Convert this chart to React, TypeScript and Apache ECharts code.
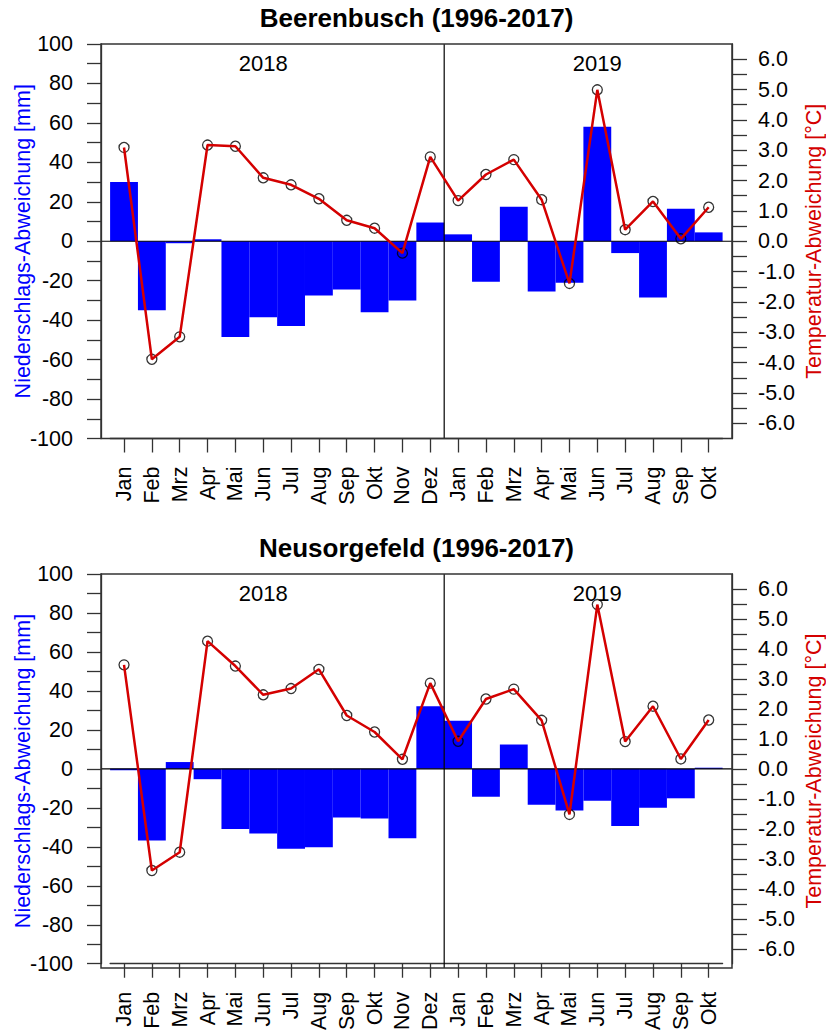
import React, { useEffect, useRef } from "react";
import * as echarts from "echarts";

const months = ["Jan", "Feb", "Mrz", "Apr", "Mai", "Jun", "Jul", "Aug", "Sep", "Okt", "Nov", "Dez", "Jan", "Feb", "Mrz", "Apr", "Mai", "Jun", "Jul", "Aug", "Sep", "Okt"];
const years = ["2018", "2019"];
const yearLabelIndex = [5, 17];
const yearLabelValue = 90;
const stations = ["Beerenbusch (1996-2017)", "Neusorgefeld (1996-2017)"];

const beerenPrecip = [30, -35, -1, 1, -48.5, -38.5, -43, -27.5, -24.5, -36, -30, 9.5, 3.5, -20.5, 17.5, -25.5, -21, 58, -6, -28.5, 16.5, 4.5];
const beerenTemp = [3.09, -3.89, -3.15, 3.17, 3.13, 2.09, 1.86, 1.4, 0.69, 0.43, -0.39, 2.78, 1.34, 2.2, 2.69, 1.37, -1.39, 4.99, 0.38, 1.31, 0.08, 1.12];
const neuPrecip = [-0.7, -36.8, 3.5, -5.3, -30.9, -33.2, -41, -40.2, -25, -25.5, -35.6, 32.1, 24.7, -14.3, 12.5, -18.4, -21.4, -16.3, -29.3, -19.9, -15.1, 0.6];
const neuTemp = [3.47, -3.39, -2.78, 4.26, 3.43, 2.47, 2.68, 3.32, 1.78, 1.23, 0.32, 2.86, 0.92, 2.33, 2.66, 1.62, -1.52, 5.48, 0.91, 2.09, 0.33, 1.63];

const precipTicks = [-100, -90, -80, -70, -60, -50, -40, -30, -20, -10, 0, 10, 20, 30, 40, 50, 60, 70, 80, 90, 100];
const precipLabels = [-100, -80, -60, -40, -20, 0, 20, 40, 60, 80, 100];
const tempTicks = [-6, -5.5, -5, -4.5, -4, -3.5, -3, -2.5, -2, -1.5, -1, -0.5, 0, 0.5, 1, 1.5, 2, 2.5, 3, 3.5, 4, 4.5, 5, 5.5, 6];
const tempLabels = [-6, -5, -4, -3, -2, -1, 0, 1, 2, 3, 4, 5, 6];

const precipSeries = [beerenPrecip, neuPrecip];
const tempSeries = [beerenTemp, neuTemp];

const FONT = "Liberation Sans, Arial, sans-serif";
const AX = "#333333";
const BLUE = "#0000FF";
const RED = "#D40000";

const BOX_LEFT = 101;
const BOX_RIGHT = 732;
const GRID_LEFT = 110.1;
const GRID_WIDTH = 612.5;
const GRID_TOPS = [44, 574];
const GRID_HEIGHTS = [394.5, 394];
const TITLE_Y = [17.5, 548];

export default function App() {
  const ref = useRef<HTMLDivElement>(null);

  useEffect(() => {
    if (!ref.current) return;
    const chart = echarts.init(ref.current, undefined, { renderer: "svg" });

    const grids: any[] = [];
    const xAxes: any[] = [];
    const yAxes: any[] = [];
    const series: any[] = [];

    [0, 1].forEach((g) => {
      grids.push({ left: GRID_LEFT, width: GRID_WIDTH, top: GRID_TOPS[g], height: GRID_HEIGHTS[g] });
      xAxes.push({
        type: "category",
        gridIndex: g,
        data: months,
        boundaryGap: true,
        axisLine: { show: true, onZero: false, lineStyle: { color: AX, width: 1.3 } },
        axisTick: { show: true, alignWithLabel: true, length: 14, lineStyle: { color: AX, width: 1.3 } },
        axisLabel: { interval: 0, rotate: 90, margin: 28, fontSize: 21.5, color: "#000", fontFamily: FONT },
        splitLine: { show: false },
      });
      yAxes.push({
        type: "value",
        gridIndex: g,
        position: "left",
        offset: GRID_LEFT - BOX_LEFT,
        min: -100,
        max: 100,
        interval: 10,
        axisLine: { show: true, lineStyle: { color: AX, width: 1.3 } },
        axisTick: { show: true, length: 14, customValues: precipTicks, lineStyle: { color: AX, width: 1.3 } },
        axisLabel: { customValues: precipLabels, margin: 28, fontSize: 21.5, color: "#000", fontFamily: FONT },
        splitLine: { show: false },
      });
      yAxes.push({
        type: "value",
        gridIndex: g,
        position: "right",
        offset: BOX_RIGHT - (GRID_LEFT + GRID_WIDTH),
        min: -6.5,
        max: 6.5,
        interval: 0.5,
        axisLine: { show: true, lineStyle: { color: AX, width: 1.3 } },
        axisTick: { show: true, length: 15, customValues: tempTicks, lineStyle: { color: AX, width: 1.3 } },
        axisLabel: {
          customValues: tempLabels,
          margin: 26,
          fontSize: 21.5,
          color: "#000",
          fontFamily: FONT,
          formatter: (v: number) => v.toFixed(1),
        },
        splitLine: { show: false },
      });
      series.push({
        type: "bar",
        xAxisIndex: g,
        yAxisIndex: 2 * g,
        data: precipSeries[g],
        barWidth: "100%",
        barCategoryGap: "0%",
        itemStyle: { color: BLUE },
        z: 2,
      });
      series.push({
        type: "scatter",
        xAxisIndex: g,
        yAxisIndex: 2 * g + 1,
        data: tempSeries[g],
        symbol: "circle",
        symbolSize: 10,
        itemStyle: { color: "rgba(0,0,0,0)", borderColor: "#000", borderWidth: 1.3 },
        z: 4,
      });
      series.push({
        type: "line",
        xAxisIndex: g,
        yAxisIndex: 2 * g + 1,
        data: tempSeries[g],
        symbol: "none",
        lineStyle: { color: RED, width: 2.5 },
        z: 5,
      });
    });

    chart.setOption({
      animation: false,
      grid: grids,
      xAxis: xAxes,
      yAxis: yAxes,
      series,
    });

    const graphics: any[] = [];
    [0, 1].forEach((g) => {
      const top = GRID_TOPS[g];
      const h = GRID_HEIGHTS[g];
      const yZero = chart.convertToPixel({ yAxisIndex: 2 * g } as any, 0) as number;
      const xDez = chart.convertToPixel({ xAxisIndex: g } as any, 11) as number;
      const xJan = chart.convertToPixel({ xAxisIndex: g } as any, 12) as number;
      const xDiv = (xDez + xJan) / 2;
      graphics.push({
        type: "rect",
        shape: { x: BOX_LEFT, y: top, width: BOX_RIGHT - BOX_LEFT, height: h },
        style: { fill: "none", stroke: AX, lineWidth: 1.5 },
        z: 10,
      });
      graphics.push({
        type: "line",
        shape: { x1: BOX_LEFT, y1: yZero, x2: BOX_RIGHT, y2: yZero },
        style: { stroke: "#000", lineWidth: 1.2 },
        z: 3,
      });
      graphics.push({
        type: "line",
        shape: { x1: xDiv, y1: top, x2: xDiv, y2: top + h },
        style: { stroke: "#000", lineWidth: 1.2 },
        z: 3,
      });
      years.forEach((yr, i) => {
        const x = chart.convertToPixel({ xAxisIndex: g } as any, yearLabelIndex[i]) as number;
        const y = chart.convertToPixel({ yAxisIndex: 2 * g } as any, yearLabelValue) as number;
        graphics.push({
          type: "text",
          x,
          y,
          style: { text: yr, font: `22px ${FONT}`, fill: "#000", align: "center", verticalAlign: "middle" },
          z: 6,
        });
      });
      graphics.push({
        type: "text",
        x: (BOX_LEFT + BOX_RIGHT) / 2,
        y: TITLE_Y[g],
        style: { text: stations[g], font: `bold 26px ${FONT}`, fill: "#000", align: "center", verticalAlign: "middle" },
      });
      graphics.push({
        type: "text",
        x: 23,
        y: top + h / 2,
        rotation: Math.PI / 2,
        style: { text: "Niederschlags-Abweichung [mm]", font: `21.5px ${FONT}`, fill: BLUE, align: "center", verticalAlign: "middle" },
      });
      graphics.push({
        type: "text",
        x: 814,
        y: top + h / 2,
        rotation: Math.PI / 2,
        style: { text: "Temperatur-Abweichung [°C]", font: `21.5px ${FONT}`, fill: RED, align: "center", verticalAlign: "middle" },
      });
    });

    chart.setOption({ graphic: graphics });

    return () => chart.dispose();
  }, []);

  return <div ref={ref} style={{ position: "absolute", left: 0, top: 0, width: 826, height: 1033 }} />;
}
